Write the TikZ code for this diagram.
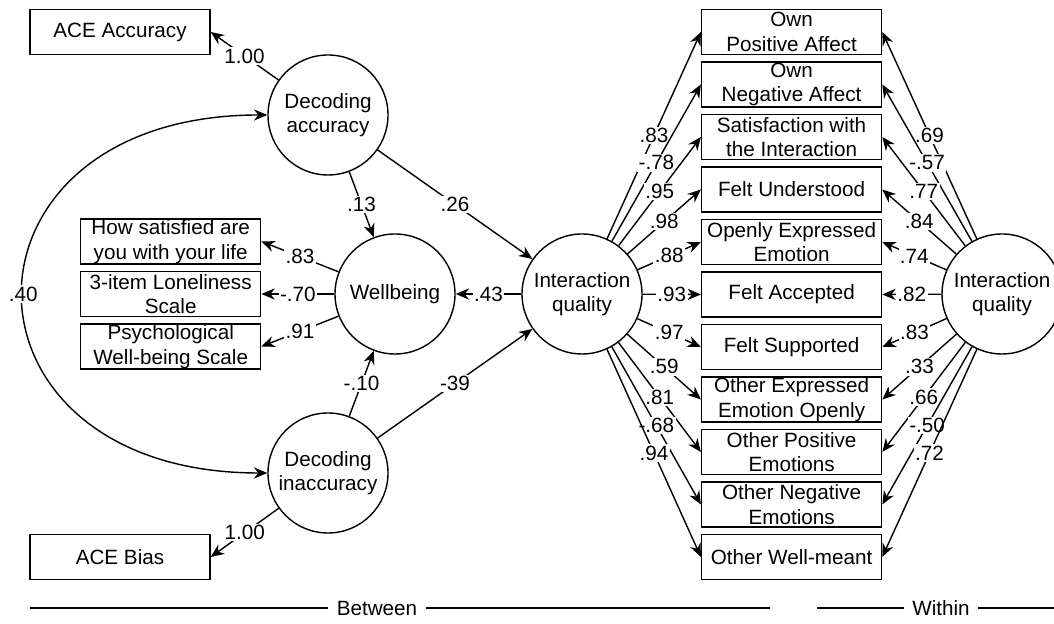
\documentclass[tikz,border=0pt]{standalone}
\usepackage{fontspec}
\setmainfont{Liberation Sans}
\usetikzlibrary{arrows.meta}

\begin{document}
\begin{tikzpicture}[>={Stealth[length=9.5pt,width=8pt]},line width=1pt,
  font=\fontsize{14.7}{17.4}\selectfont,
  obs/.style={draw,minimum width=4.5cm,minimum height=1.125cm,
    inner sep=0pt,align=center},
  lat/.style={draw,circle,minimum size=3cm,inner sep=0pt,align=center},
  coef/.style={fill=white,inner sep=1pt}]
  \clip (0,0) rectangle (26.35,15.6);

  % Between level: decoding, wellbeing and interaction quality
  \node[obs] (aceacc) at (3.0,14.8) {ACE Accuracy};
  \node[obs] (acebias) at (3.0,1.675) {ACE Bias};
  \node[lat] (dacc) at (8.2,12.725) {Decoding\\accuracy};
  \node[lat] (dinacc) at (8.2,3.775) {Decoding\\inaccuracy};
  \node[lat] (wb) at (9.875,8.25) {Wellbeing};
  \node[lat] (iqb) at (14.55,8.25) {Interaction\\quality};

  \node[obs] (life) at (4.2675,9.5625) {How satisfied are\\you with your life};
  \node[obs] (lonely) at (4.2675,8.25) {3-item Loneliness\\Scale};
  \node[obs] (pwb) at (4.2675,6.9375) {Psychological\\Well-being Scale};

  \draw[->] (dacc) -- (aceacc.east) node[coef,midway] {1.00};
  \draw[->] (dinacc) -- (acebias.east) node[coef,midway] {1.00};
  \draw[<->] (dacc.west) to[out=180,in=180,looseness=2.33]
    node[coef,midway] {.40} (dinacc.west);

  \draw[->] (dacc) -- (wb) node[coef,midway] {.13};
  \draw[->] (dinacc) -- (wb) node[coef,midway] {-.10};
  \draw[->] (dacc) -- (iqb) node[coef,midway] {.26};
  \draw[->] (dinacc) -- (iqb) node[coef,midway] {-39};
  \draw[->] (iqb) -- (wb) node[coef,midway] {.43};

  \draw[->] (wb) -- (life.east) node[coef,midway] {.83};
  \draw[->] (wb) -- (lonely.east) node[coef,midway] {-.70};
  \draw[->] (wb) -- (pwb.east) node[coef,midway] {.91};

  % Interaction items, shared by both levels
  \node[obs] (ownpos) at (19.79,14.8) {Own\\Positive Affect};
  \node[obs] (ownneg) at (19.79,13.4875) {Own\\Negative Affect};
  \node[obs] (satis) at (19.79,12.175) {Satisfaction with\\the Interaction};
  \node[obs] (underst) at (19.79,10.8625) {Felt Understood};
  \node[obs] (openexp) at (19.79,9.55) {Openly Expressed\\Emotion};
  \node[obs] (accept) at (19.79,8.2375) {Felt Accepted};
  \node[obs] (support) at (19.79,6.925) {Felt Supported};
  \node[obs] (othexp) at (19.79,5.6125) {Other Expressed\\Emotion Openly};
  \node[obs] (othpos) at (19.79,4.3) {Other Positive\\Emotions};
  \node[obs] (othneg) at (19.79,2.9875) {Other Negative\\Emotions};
  \node[obs] (othwell) at (19.79,1.675) {Other Well-meant};

  \draw[->] (iqb) -- (ownpos.west) node[coef,midway] {.83};
  \draw[->] (iqb) -- (ownneg.west) node[coef,midway] {-.78};
  \draw[->] (iqb) -- (satis.west) node[coef,midway] {.95};
  \draw[->] (iqb) -- (underst.west) node[coef,midway] {.98};
  \draw[->] (iqb) -- (openexp.west) node[coef,midway] {.88};
  \draw[->] (iqb) -- (accept.west) node[coef,midway] {.93};
  \draw[->] (iqb) -- (support.west) node[coef,midway] {.97};
  \draw[->] (iqb) -- (othexp.west) node[coef,midway] {.59};
  \draw[->] (iqb) -- (othpos.west) node[coef,midway] {.81};
  \draw[->] (iqb) -- (othneg.west) node[coef,midway] {-.68};
  \draw[->] (iqb) -- (othwell.west) node[coef,midway] {.94};

  % Within level
  \node[lat] (iqw) at (25.05,8.25) {Interaction\\quality};

  \draw[->] (iqw) -- (ownpos.east) node[coef,midway] {.69};
  \draw[->] (iqw) -- (ownneg.east) node[coef,midway] {-.57};
  \draw[->] (iqw) -- (satis.east) node[coef,midway] {.77};
  \draw[->] (iqw) -- (underst.east) node[coef,midway] {.84};
  \draw[->] (iqw) -- (openexp.east) node[coef,midway] {.74};
  \draw[->] (iqw) -- (accept.east) node[coef,midway] {.82};
  \draw[->] (iqw) -- (support.east) node[coef,midway] {.83};
  \draw[->] (iqw) -- (othexp.east) node[coef,midway] {.33};
  \draw[->] (iqw) -- (othpos.east) node[coef,midway] {.66};
  \draw[->] (iqw) -- (othneg.east) node[coef,midway] {-.50};
  \draw[->] (iqw) -- (othwell.east) node[coef,midway] {.72};

  % Level rulers along the bottom
  \coordinate (betl) at (0.75,0.4);
  \coordinate (betr) at (19.25,0.4);
  \node[inner xsep=0.2cm] (between) at (9.425,0.4) {Between};
  \draw (betl) -- (between);
  \draw (between) -- (betr);
  \coordinate (witl) at (20.425,0.4);
  \coordinate (witr) at (26.6,0.4);
  \node[inner xsep=0.2cm] (within) at (23.525,0.4) {Within};
  \draw (witl) -- (within);
  \draw (within) -- (witr);
\end{tikzpicture}
\end{document}
